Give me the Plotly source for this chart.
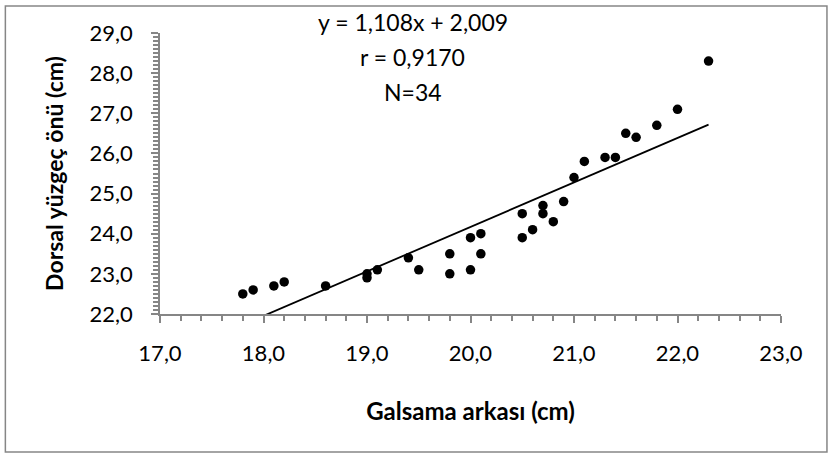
import plotly.graph_objects as go

# Gill-region length (x) vs. pre-dorsal length (y), in cm
galsama_arkasi = [17.8, 17.9, 18.1, 18.2, 18.6, 19.0, 19.0, 19.1, 19.4, 19.5,
                  19.8, 19.8, 20.0, 20.0, 20.1, 20.1, 20.5, 20.5, 20.6, 20.7,
                  20.7, 20.8, 20.9, 21.0, 21.1, 21.3, 21.4, 21.5, 21.6, 21.8,
                  22.0, 22.3]
dorsal_yuzgec_onu = [22.5, 22.6, 22.7, 22.8, 22.7, 22.9, 23.0, 23.1, 23.4, 23.1,
                     23.5, 23.0, 23.9, 23.1, 24.0, 23.5, 24.5, 23.9, 24.1, 24.7,
                     24.5, 24.3, 24.8, 25.4, 25.8, 25.9, 25.9, 26.5, 26.4, 26.7,
                     27.1, 28.3]

# Regression results as reported on the chart
slope = 1.108
intercept = 2.009
r_value = "0,9170"
n_value = 34

x_ticks = [17, 18, 19, 20, 21, 22, 23]
y_ticks = [22, 23, 24, 25, 26, 27, 28, 29]

FONT = "Lato"
AXIS_GREY = "#868686"

x_fit = [min(galsama_arkasi), max(galsama_arkasi)]
y_fit = [slope * v + intercept for v in x_fit]

fig = go.Figure()
fig.add_trace(go.Scatter(
    x=galsama_arkasi, y=dorsal_yuzgec_onu, mode="markers",
    marker=dict(color="black", size=9.5, line=dict(width=0)),
    showlegend=False, cliponaxis=False,
))
fig.add_trace(go.Scatter(
    x=x_fit, y=y_fit, mode="lines",
    line=dict(color="black", width=1.8),
    showlegend=False,
))

fig.update_layout(
    width=833, height=459,
    margin=dict(l=160, r=52, t=33, b=145),
    paper_bgcolor="white", plot_bgcolor="white",
    separators=",.",
    font=dict(family=FONT, size=22, color="black"),
    xaxis=dict(
        range=[17, 23], tickvals=x_ticks, tickformat=".1f",
        showgrid=False, zeroline=False,
        showline=True, linecolor=AXIS_GREY, linewidth=1.5,
        ticks="outside", ticklen=7, tickwidth=1.5, tickcolor=AXIS_GREY,
        minor=dict(dtick=0.2, ticks="outside", ticklen=5, tickwidth=1.5,
                   tickcolor=AXIS_GREY, showgrid=False),
        ticklabelstandoff=12,
        tickfont=dict(family=FONT, size=22),
        title=dict(text="<b>Galsama arkası (cm)</b>", standoff=38,
                   font=dict(family=FONT, size=24)),
        automargin=False,
    ),
    yaxis=dict(
        range=[22, 29], tickvals=y_ticks, tickformat=".1f",
        showgrid=False, zeroline=False,
        showline=True, linecolor=AXIS_GREY, linewidth=1.5,
        ticks="outside", ticklen=7, tickwidth=1.5, tickcolor=AXIS_GREY,
        minor=dict(dtick=0.1, ticks="outside", ticklen=5, tickwidth=1.5,
                   tickcolor=AXIS_GREY, showgrid=False),
        ticklabelstandoff=14,
        tickfont=dict(family=FONT, size=22),
        title=dict(text="<b>Dorsal yüzgeç önü (cm)</b>", standoff=20,
                   font=dict(family=FONT, size=23)),
        automargin=False,
    ),
    shapes=[dict(
        type="rect", xref="paper", yref="paper",
        x0=-0.249, x1=1.074, y0=-0.491, y1=1.096,
        line=dict(color=AXIS_GREY, width=1.5), fillcolor="rgba(0,0,0,0)",
        layer="below",
    )],
)

stats_lines = [
    f"y = {slope:.3f}x + {intercept:.3f}".replace(".", ","),
    f"r = {r_value}",
    f"N={n_value}",
]
for text, ypos in zip(stats_lines, [1.039, 0.915, 0.790]):
    fig.add_annotation(
        text=text, xref="paper", yref="paper", x=0.407, y=ypos,
        xanchor="center", yanchor="middle", showarrow=False,
        font=dict(family=FONT, size=23, color="black"),
    )

fig.write_html("out.html")
